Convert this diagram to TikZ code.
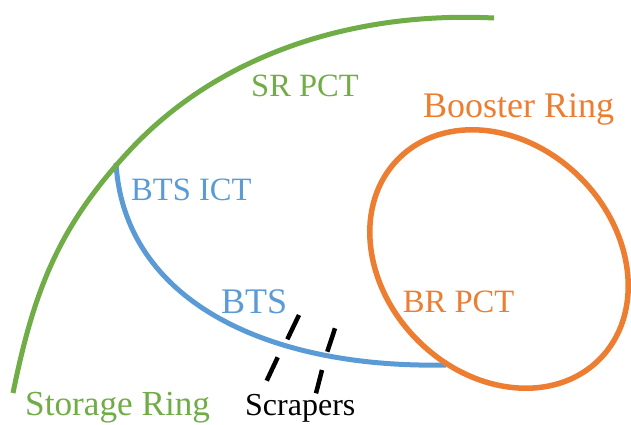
\documentclass[tikz,border=0pt]{standalone}
\usepackage{fontspec}
\setmainfont{Liberation Serif}
\definecolor{srgreen}{HTML}{70AD47}
\definecolor{btsblue}{HTML}{5B9BD5}
\definecolor{brorange}{HTML}{ED7D31}
\tikzset{
  lbl/.style={inner sep=0pt, anchor=base west},
  scraper/.style={line width=4.5pt, black},
}
\begin{document}
\begin{tikzpicture}[x=1pt,y=-1pt]
\useasboundingbox (0,0) rectangle (631,424);
% BTS line
\draw[btsblue, line width=5pt] (116,163) .. controls (124,300) and (266,368.6) .. (446,365);
% Storage ring arc
\draw[srgreen, line width=5pt] (13,393) .. controls (34,290) and (58.6,226.4) .. (130,150)
   .. controls (221.8,51.5) and (358,11.25) .. (494,18);
% Booster ring
\draw[brorange, line width=5.5pt, rotate around={-45:(499,259)}] (499,259) ellipse [x radius=142pt, y radius=115pt];
% Scrapers
\draw[scraper] (299,315) -- (287.3,339.3);
\draw[scraper] (277.7,357.3) -- (266.7,380.7);
\draw[scraper] (335,328.3) -- (327.3,351.7);
\draw[scraper] (322,370) -- (316,393.3);
% Labels
\node[lbl, text=srgreen, font=\fontsize{32.5}{36}\selectfont] (srpct) at (251,96.7) {SR PCT};
\node[lbl, text=brorange, font=\fontsize{36}{40}\selectfont] (booster) at (423,117) {Booster Ring};
\node[lbl, text=btsblue, font=\fontsize{32.6}{36}\selectfont] (btsict) at (131,200) {BTS ICT};
\node[lbl, text=btsblue, font=\fontsize{36}{40}\selectfont] (bts) at (221,313.3) {BTS};
\node[lbl, text=brorange, font=\fontsize{32.6}{36}\selectfont] (brpct) at (402.7,312.7) {BR PCT};
\node[lbl, text=srgreen, font=\fontsize{35.2}{38}\selectfont] (sr) at (25,415) {Storage Ring};
\node[lbl, text=black, font=\fontsize{32}{36}\selectfont] (scr) at (245,415) {Scrapers};
\end{tikzpicture}
\end{document}
